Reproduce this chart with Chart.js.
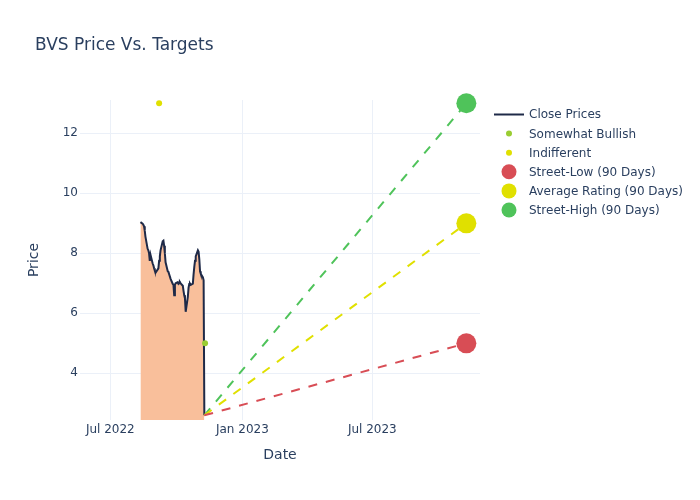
<!DOCTYPE html>
<html>
<head>
<meta charset="utf-8">
<script src="https://cdn.jsdelivr.net/npm/chart.js@4.4.1/dist/chart.umd.min.js"></script>
<style>
  html, body { margin: 0; padding: 0; background: #ffffff; }
  #wrap { width: 700px; height: 500px; }
</style>
</head>
<body>
<div id="wrap"><canvas id="c" width="700" height="500"></canvas></div>
<script>
// ---------- data ----------
const chartTitle = 'BVS Price Vs. Targets';
const priceDates = ['2022-08-12','2022-08-15','2022-08-16','2022-08-17','2022-08-18','2022-08-19','2022-08-22','2022-08-23','2022-08-24','2022-08-25','2022-08-26','2022-08-29','2022-08-30','2022-08-31',
  '2022-09-01','2022-09-02','2022-09-06','2022-09-07','2022-09-08','2022-09-09','2022-09-12','2022-09-13','2022-09-14','2022-09-15','2022-09-16','2022-09-19','2022-09-20','2022-09-21','2022-09-22','2022-09-23','2022-09-26','2022-09-27','2022-09-28','2022-09-29','2022-09-30',
  '2022-10-03','2022-10-04','2022-10-05','2022-10-06','2022-10-07','2022-10-10','2022-10-11','2022-10-12','2022-10-13','2022-10-14','2022-10-17','2022-10-18','2022-10-19','2022-10-20','2022-10-21','2022-10-24','2022-10-25','2022-10-26','2022-10-27','2022-10-28','2022-10-31',
  '2022-11-01','2022-11-02','2022-11-03','2022-11-04','2022-11-07','2022-11-08','2022-11-09'];
const closePrices = [9.04, 8.99, 8.95, 8.9, 8.75, 8.55, 8.15, 8.1, 8.0, 7.75, 7.95, 7.66, 7.6, 7.5,
  7.42, 7.35, 7.5, 7.75, 7.9, 8.1, 8.4, 8.42, 8.25, 8.0, 7.7, 7.4, 7.38, 7.3, 7.3, 7.15, 6.98, 6.95, 6.6, 6.95, 7.0,
  7.04, 6.98, 7.0, 7.04, 7.0, 6.92, 6.75, 6.6, 6.5, 6.05, 6.55, 6.85, 6.98, 6.99, 6.95, 6.99, 7.3, 7.55, 7.75, 7.9, 8.1,
  8.05, 7.8, 7.4, 7.32, 7.2, 7.1, 2.6];
const somewhatBullishDates = ['2022-11-10'];
const somewhatBullishTargets = [5];
const indifferentDates = ['2022-09-07'];
const indifferentTargets = [13];
const targetStartDate = '2022-11-09';
const targetEndDate = '2023-11-09';
const streetLow = 5;
const averageRating = 9;
const streetHigh = 13;
const xTickDates = ['2022-07-01', '2023-01-01', '2023-07-01'];
const xTickLabels = ['Jul 2022', 'Jan 2023', 'Jul 2023'];
const yTickValues = [4, 6, 8, 10, 12];
const xRange = ['2022-05-19T19:00:00Z', '2023-11-28T00:00:00Z'];
const yRange = [2.444, 13.11];

// ---------- styles ----------
const TEXT = '#2a3f5f';
const GRID = '#ebf0f8';
const NAVY = '#1f2a48';
const FILL = '#f9bf9b';
const RED = '#d84d55';
const YELLOW = '#e0e000';
const GREEN = '#4fc35a';
const YGREEN = '#9acd32';

const t = s => Date.parse(s);
const lastClose = closePrices[closePrices.length - 1];

function targetLine(label, value, color) {
  return {
    label, type: 'line',
    data: [{x: t(targetStartDate), y: lastClose}, {x: t(targetEndDate), y: value}],
    borderColor: color, backgroundColor: color, borderWidth: 2, borderDash: [9, 9],
    pointRadius: [0, 10], pointHoverRadius: [0, 10], pointBorderWidth: 0,
    fill: false, clip: false, order: 5,
    legendSymbol: {kind: 'circle', r: 7.5}
  };
}

const datasets = [
  {
    label: 'Close Prices', type: 'line',
    data: priceDates.map((d, i) => ({x: t(d), y: closePrices[i]})),
    borderColor: NAVY, backgroundColor: FILL, borderWidth: 2, fill: 'origin',
    pointRadius: 0, tension: 0, order: 10,
    legendSymbol: {kind: 'line'}
  },
  {
    label: 'Somewhat Bullish', type: 'line', showLine: false,
    data: somewhatBullishDates.map((d, i) => ({x: t(d), y: somewhatBullishTargets[i]})),
    borderColor: YGREEN, backgroundColor: YGREEN, pointRadius: 3, pointBorderWidth: 0,
    clip: false, order: 1,
    legendSymbol: {kind: 'circle', r: 3}
  },
  {
    label: 'Indifferent', type: 'line', showLine: false,
    data: indifferentDates.map((d, i) => ({x: t(d), y: indifferentTargets[i]})),
    borderColor: YELLOW, backgroundColor: YELLOW, pointRadius: 3, pointBorderWidth: 0,
    clip: false, order: 1,
    legendSymbol: {kind: 'circle', r: 3}
  },
  targetLine('Street-Low (90 Days)', streetLow, RED),
  targetLine('Average Rating (90 Days)', averageRating, YELLOW),
  targetLine('Street-High (90 Days)', streetHigh, GREEN)
];

const titlePlugin = {
  id: 'plotTitle',
  afterDraw(chart) {
    const ctx = chart.ctx;
    ctx.save();
    ctx.font = '17px "DejaVu Sans"';
    ctx.fillStyle = TEXT;
    ctx.textAlign = 'left';
    ctx.textBaseline = 'middle';
    ctx.fillText(chartTitle, 35, 45.5);
    ctx.restore();
  }
};

const legendPlugin = {
  id: 'sideLegend',
  afterDraw(chart) {
    const ctx = chart.ctx;
    ctx.save();
    ctx.font = '12px "DejaVu Sans"';
    ctx.textBaseline = 'middle';
    ctx.textAlign = 'left';
    chart.data.datasets.forEach((ds, i) => {
      const y = 115.3 + i * 19.1;
      const sym = ds.legendSymbol;
      if (sym.kind === 'line') {
        ctx.strokeStyle = ds.borderColor;
        ctx.lineWidth = 2;
        ctx.beginPath();
        ctx.moveTo(494, y - 0.8);
        ctx.lineTo(524, y - 0.8);
        ctx.stroke();
      } else {
        ctx.fillStyle = ds.backgroundColor;
        ctx.beginPath();
        ctx.arc(509, y - 0.8, sym.r, 0, Math.PI * 2);
        ctx.fill();
      }
      ctx.fillStyle = TEXT;
      ctx.fillText(ds.label, 529, y);
    });
    ctx.restore();
  }
};

Chart.defaults.font.family = '"DejaVu Sans", sans-serif';
Chart.defaults.color = TEXT;

new Chart(document.getElementById('c'), {
  type: 'line',
  data: { datasets },
  options: {
    responsive: false,
    animation: false,
    layout: { padding: { top: 100, right: 220, left: 0, bottom: 0 } },
    plugins: { legend: { display: false }, tooltip: { enabled: false }, title: { display: false } },
    scales: {
      x: {
        type: 'linear',
        min: t(xRange[0]), max: t(xRange[1]),
        afterBuildTicks: s => { s.ticks = xTickDates.map(d => ({value: t(d)})); },
        afterFit: s => { s.height = 80; },
        ticks: {
          font: {size: 12}, color: TEXT, padding: 3, maxRotation: 0, autoSkip: false,
          callback: (v) => { const i = xTickDates.findIndex(d => t(d) === v); return i >= 0 ? xTickLabels[i] : ''; }
        },
        grid: { color: GRID, lineWidth: 1, drawTicks: false },
        border: { display: false },
        title: { display: true, text: 'Date', font: {size: 14}, color: TEXT, padding: {top: 0, bottom: 36} }
      },
      y: {
        type: 'linear',
        min: yRange[0], max: yRange[1],
        afterBuildTicks: s => { s.ticks = yTickValues.map(v => ({value: v})); },
        afterFit: s => { s.width = 80; },
        ticks: { font: {size: 12}, color: TEXT, padding: 2 },
        grid: { color: GRID, lineWidth: 1, drawTicks: false },
        border: { display: false },
        title: { display: true, text: 'Price', font: {size: 14}, color: TEXT, padding: {top: 26, bottom: 0} }
      }
    }
  },
  plugins: [titlePlugin, legendPlugin]
});
</script>
</body>
</html>
